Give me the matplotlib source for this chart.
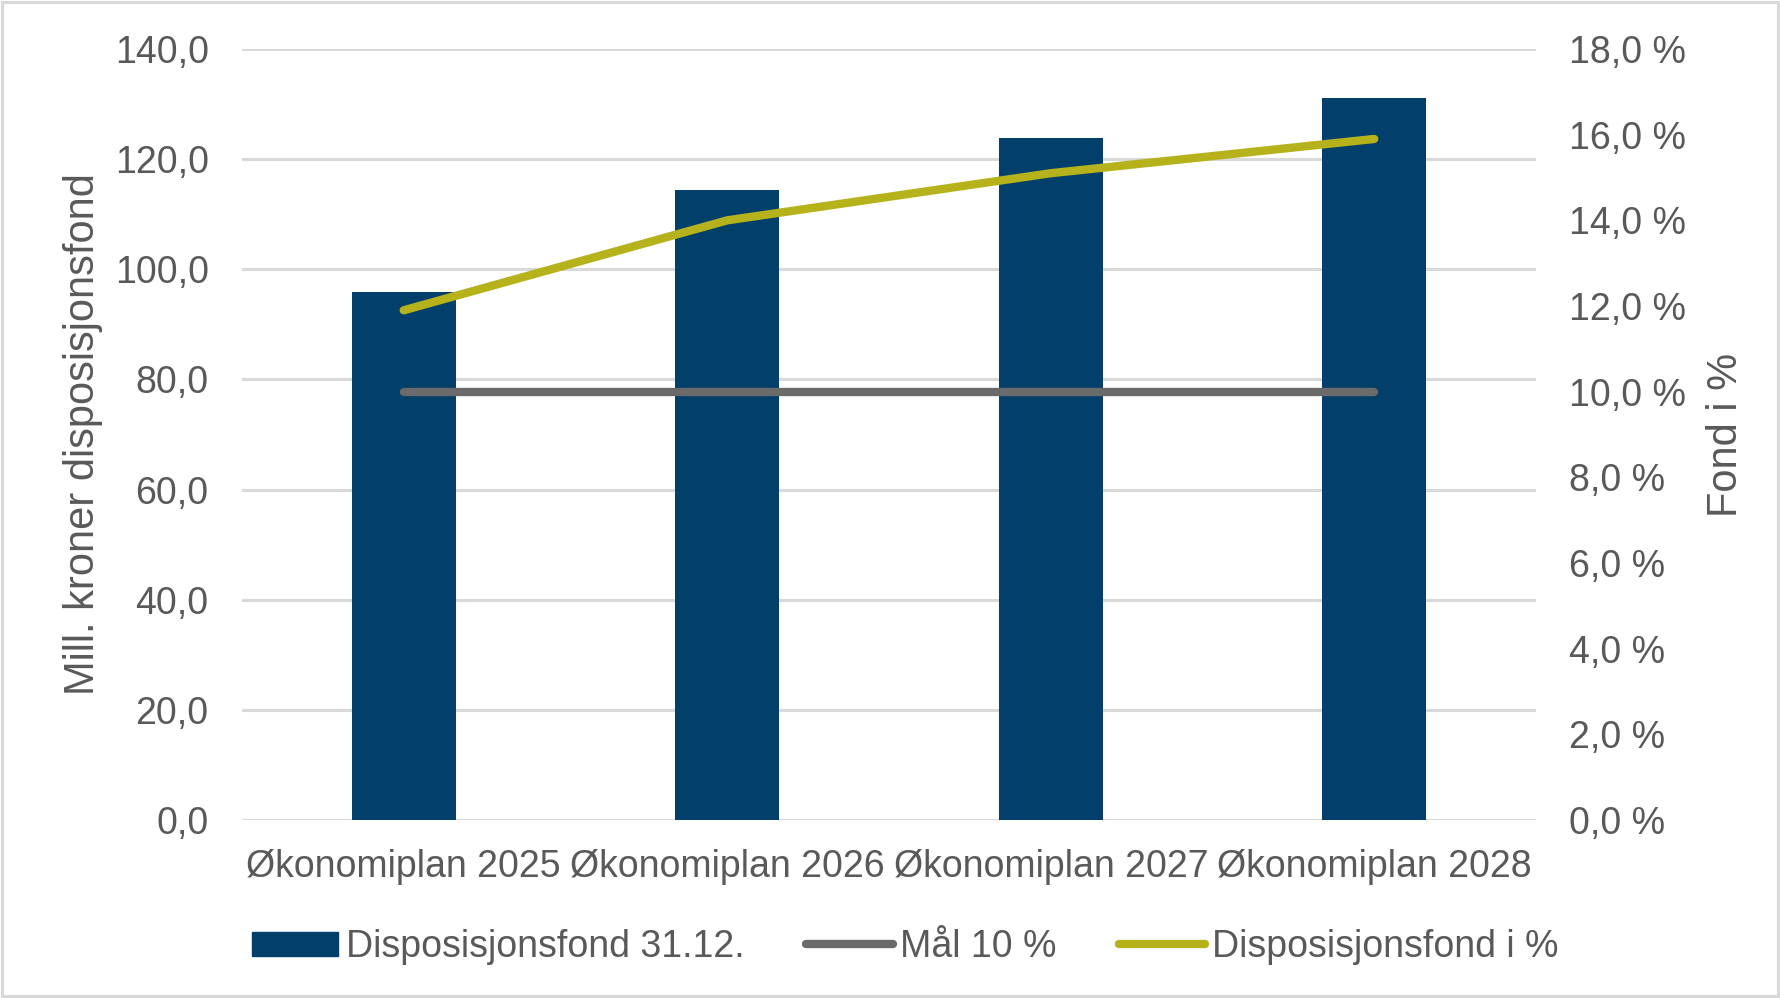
import matplotlib
matplotlib.use("Agg")
import matplotlib.pyplot as plt
from matplotlib.patches import Rectangle, Patch
from matplotlib.lines import Line2D
from matplotlib.ticker import FuncFormatter, MultipleLocator

categories = ["Økonomiplan 2025", "Økonomiplan 2026", "Økonomiplan 2027", "Økonomiplan 2028"]
fond_mill = [95.9, 114.4, 123.9, 131.1]
maal_pct = [10.0, 10.0, 10.0, 10.0]
fond_pct = [11.9, 14.0, 15.1, 15.9]

plt.rcParams['font.family'] = ['Liberation Sans', 'DejaVu Sans']
TEXT = '#595959'
NAVY = '#023F6B'
GREY = '#6A6A6A'
OLIVE = '#B5B21B'
FS = 27
FS_LAB = 30

W, H = 1780, 998
fig = plt.figure(figsize=(W / 100, H / 100), dpi=100)
ax = fig.add_axes([242 / W, 1 - 820 / H, (1536 - 242) / W, (820 - 49) / H])

x = list(range(len(categories)))
ax.bar(x, fond_mill, width=0.32, color=NAVY, zorder=2)
ax.set_xlim(-0.5, len(categories) - 0.5)
ax.set_ylim(0, 140)
ax.yaxis.set_major_locator(MultipleLocator(20))
ax.yaxis.set_major_formatter(FuncFormatter(lambda v, p: f"{v:.1f}".replace('.', ',')))
ax.set_xticks(x)
ax.set_xticklabels(categories)
ax.grid(axis='y', color='#D9D9D9', linewidth=2.2, zorder=0)
ax.set_axisbelow(True)
for s in ax.spines.values():
    s.set_visible(False)
ax.tick_params(axis='y', length=0, labelsize=FS, colors=TEXT, pad=24)
ax.tick_params(axis='x', length=0, labelsize=FS, colors=TEXT, pad=21)
ax.set_ylabel("Mill. kroner disposisjonsfond", fontsize=FS_LAB, color=TEXT, va='center')
ax.yaxis.set_label_coords((83 - 242) / 1294, 0.5)

ax2 = ax.twinx()
ax2.set_ylim(0, 18)
ax2.yaxis.set_major_locator(MultipleLocator(2))
ax2.yaxis.set_major_formatter(FuncFormatter(lambda v, p: f"{v:.1f} %".replace('.', ',')))
for s in ax2.spines.values():
    s.set_visible(False)
ax2.tick_params(axis='y', length=0, labelsize=FS, colors=TEXT, pad=24)
ax2.plot(x, maal_pct, color=GREY, lw=6, solid_capstyle='round', zorder=3)
ax2.plot(x, fond_pct, color=OLIVE, lw=6, solid_capstyle='round', zorder=4)
ax2.set_ylabel("Fond i %", fontsize=FS_LAB, color=TEXT, rotation=90, va='center')
ax2.yaxis.set_label_coords((1726 - 242) / 1294, 0.5)

handles = [
    Patch(facecolor=NAVY, edgecolor=NAVY),
    Line2D([0], [0], color=GREY, lw=6, solid_capstyle='round'),
    Line2D([0], [0], color=OLIVE, lw=6, solid_capstyle='round'),
]
labels = ["Disposisjonsfond 31.12.", "Mål 10 %", "Disposisjonsfond i %"]
leg = fig.legend(handles, labels, ncol=3, loc='center', bbox_to_anchor=(905.5 / W, 1 - 947 / H),
                 frameon=False, fontsize=FS, handlelength=2.3, handletextpad=0.2,
                 columnspacing=1.65, handleheight=0.6)
for t in leg.get_texts():
    t.set_color(TEXT)

fig.add_artist(Rectangle((0.0012, 0.002), 0.9976, 0.996, transform=fig.transFigure,
                         fill=False, edgecolor='#D9D9D9', lw=2.2))

fig.savefig("out.png", dpi=100)
